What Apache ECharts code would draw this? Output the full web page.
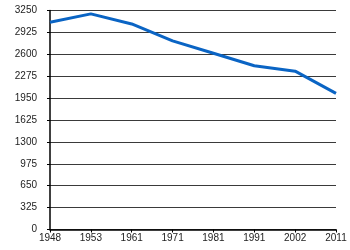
<!DOCTYPE html>
<html><head><meta charset="utf-8">
<script src="https://cdn.jsdelivr.net/npm/echarts@6/dist/echarts.min.js"></script>
<style>html,body{margin:0;padding:0;background:#fff}#c{width:350px;height:250px}</style>
</head><body><div id="c"></div>
<script>
var years = ['1948','1953','1961','1971','1981','1991','2002','2011'];
var values = [3075, 3200, 3050, 2800, 2615, 2430, 2350, 2020];
var yMin = 0, yMax = 3250, yStep = 325;

var chart = echarts.init(document.getElementById('c'), null, {renderer:'canvas'});
chart.setOption({
  animation: false,
  backgroundColor: '#ffffff',
  grid: {left: 50, right: 14, top: 10.5, bottom: 20.5, containLabel: false},
  xAxis: {
    type: 'category', data: years, boundaryGap: false,
    axisLine: {lineStyle: {color: '#000', width: 1.5}},
    axisTick: {show: true, length: 3, alignWithLabel: true, lineStyle: {color: '#000'}},
    axisLabel: {color: '#222', fontFamily: 'Liberation Sans, Arial', fontSize: 10, margin: 4, interval: 0},
    splitLine: {show: false}
  },
  yAxis: {
    type: 'value', min: yMin, max: yMax, interval: yStep,
    axisLine: {show: true, lineStyle: {color: '#000', width: 1.5}},
    axisTick: {show: true, length: 3, lineStyle: {color: '#000'}},
    axisLabel: {color: '#222', fontFamily: 'Liberation Sans, Arial', fontSize: 10, margin: 13,
      formatter: function (v) { return String(v); }},
    splitLine: {show: true, lineStyle: {color: '#3a3a3a', width: 1}}
  },
  series: [{
    type: 'line', data: values, symbol: 'none',
    lineStyle: {color: '#0a64c4', width: 3}
  }]
});
</script></body></html>
